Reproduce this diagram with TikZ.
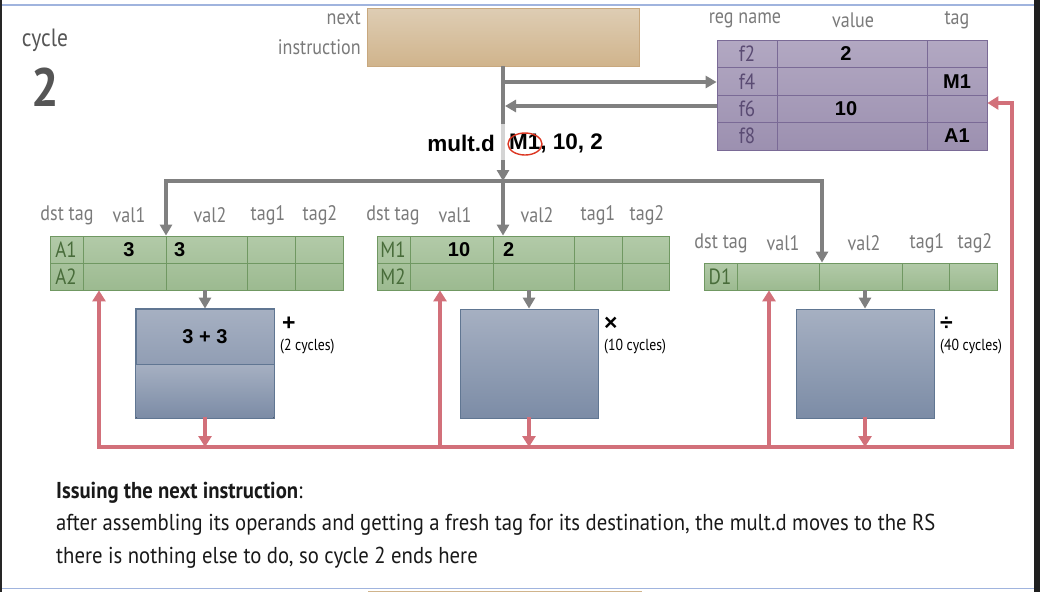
\documentclass[tikz,border=0pt]{standalone}
\usepackage{fontspec}
\setmainfont[FakeStretch=0.9]{PT Sans}
\newfontfamily\narrowfont[FakeStretch=0.86]{PT Sans}
\newfontfamily\arialfont{Liberation Sans}
\usetikzlibrary{arrows.meta,positioning,shapes.geometric}

\definecolor{lblgray}{RGB}{122,122,122}
\definecolor{cyclegray}{RGB}{85,85,85}
\definecolor{arrgray}{RGB}{128,128,128}
\definecolor{fadegray}{RGB}{212,212,212}
\definecolor{redline}{RGB}{210,112,122}
\definecolor{circred}{RGB}{220,55,35}
\definecolor{slideblue}{RGB}{160,180,222}
\definecolor{rstop}{RGB}{178,202,168}
\definecolor{rsbot}{RGB}{156,186,144}
\definecolor{rsline}{RGB}{112,152,98}
\definecolor{rstext}{RGB}{72,108,58}
\definecolor{futop}{RGB}{166,176,194}
\definecolor{fubot}{RGB}{124,140,166}
\definecolor{fuline}{RGB}{96,118,146}
\definecolor{regtop}{RGB}{178,168,194}
\definecolor{regbot}{RGB}{156,144,176}
\definecolor{regline}{RGB}{122,106,150}
\definecolor{regtext}{RGB}{90,75,115}
\definecolor{tantop}{RGB}{222,205,180}
\definecolor{tanbot}{RGB}{208,180,140}
\definecolor{tanline}{RGB}{200,168,126}

\newcommand\pxsize[1]{\fontsize{#1}{#1}\selectfont}

\tikzset{
  lbl/.style={text=lblgray, font=\narrowfont\pxsize{21}, inner sep=0pt},
  val/.style={font=\arialfont\bfseries\pxsize{20}, inner sep=0pt},
  rsname/.style={text=rstext, font=\narrowfont\pxsize{22}, inner sep=0pt},
  regname/.style={text=regtext, font=\narrowfont\pxsize{22}, inner sep=0pt},
  oplbl/.style={font=\arialfont\bfseries\pxsize{23}, inner sep=0pt, anchor=west},
  latlbl/.style={font=\narrowfont\pxsize{16}, inner sep=0pt, anchor=west},
  rsbox/.style={draw=rsline, top color=rstop, bottom color=rsbot, line width=0.8pt, inner sep=0pt},
  fubox/.style={draw=fuline, top color=futop, bottom color=fubot, line width=0.8pt, inner sep=0pt,
    minimum width=138pt, minimum height=109pt},
  regbox/.style={draw=regline, top color=regtop, bottom color=regbot, line width=0.8pt, inner sep=0pt},
  nextbox/.style={draw=tanline, top color=tantop, bottom color=tanbot, line width=0.6pt, inner sep=0pt},
  garrow/.style={draw=arrgray, line width=3.5pt, -{Triangle[length=11pt,width=12pt]}},
  rarrow/.style={draw=redline, line width=3.5pt, line cap=rect, -{Triangle[length=11pt,width=13pt]}},
  txt/.style={font=\pxsize{23}, inner sep=0pt, anchor=west, text=black!90}
}

\begin{document}
\begin{tikzpicture}[x=1pt,y=-1pt]
  % slide frame
  \useasboundingbox (0,0) rectangle (1040,592);
  \fill[white] (0,0) rectangle (1040,592);
  \fill[black!85] (0,0) rectangle (2,592);
  \fill[black!88] (1034,0) rectangle (1040,592);
  \draw[slideblue, line width=1.2pt] (2,5) -- (1034,5);
  \draw[slideblue, line width=1.2pt] (2,588.5) -- (1034,588.5);
  \fill[tanbot] (368,590.6) rectangle (642,592);

  % cycle number
  \node[lbl, text=cyclegray, font=\narrowfont\pxsize{25}] (cycle) at (45,40) {cycle};
  \node[text=cyclegray, font=\bfseries\pxsize{54}, inner sep=0pt] (cyclenum) at (45,87) {2};

  % next instruction
  \node[nextbox, minimum width=272pt, minimum height=58pt] (next) at (503,37) {};
  \node[lbl, anchor=east] (nextlbl) at (361,18) {next};
  \node[lbl, anchor=east] (instrlbl) at (361,47) {instruction};

  % register file
  \node[lbl] (hreg) at (745,20) {reg name};
  \node[lbl] (hval) at (853,20) {value};
  \node[lbl] (htag) at (957,20) {tag};
  \node[regbox, minimum width=270pt, minimum height=110pt] (regf) at (852,95) {};
  \foreach \y in {67.5,95,122.5} \draw[regline, line width=0.8pt] (717,\y) -- (987,\y);
  \foreach \x in {777,927} \draw[regline, line width=0.8pt] (\x,40) -- (\x,150);
  \foreach \n/\y in {f2/54,f4/81.5,f6/109,f8/136}
    \node[regname] (reg\n) at (747,\y) {\n};
  \node[val] (vf2) at (846,54) {2};
  \node[val] (vf6) at (846,109) {10};
  \node[val] (tf4) at (957,81.5) {M1};
  \node[val] (tf8) at (957,136) {A1};

  % instruction being issued
  \coordinate (tapA) at (503,82);
  \coordinate (tapB) at (505,106);
  \coordinate (busM) at (503,181);
  \coordinate (busA) at (166,181);
  \coordinate (busD) at (822,181);
  \draw[garrow] (next.south) -- (busM);
  \draw[fadegray, line width=3.5pt] (503,124) -- (503,160);
  \draw[garrow] (tapA) -- (tapA -| regf.west);
  \draw[garrow] (tapB -| regf.west) -- (tapB);
  \node[font=\arialfont\bfseries\pxsize{22.5}, inner sep=0pt, anchor=east] (opname) at (495,143) {mult.d};
  \node[font=\arialfont\bfseries\pxsize{22.5}, inner sep=0pt, anchor=west] (opargs) at (509,143) {M1, 10, 2};
  \node[draw=circred, ellipse, line width=1.4pt, minimum width=34pt, minimum height=22pt, inner sep=0pt] (ring) at (525,144) {};

  % reservation stations
  \node[rsbox, minimum width=293pt, minimum height=54pt] (rsA) at (196.5,263) {};
  \node[rsbox, minimum width=292pt, minimum height=54pt] (rsM) at (523,263) {};
  \node[rsbox, minimum width=293pt, minimum height=27pt] (rsD) at (850.5,276.5) {};
  \draw[rsline, line width=0.8pt] (50,263) -- (343,263) (377,263) -- (669,263);
  \foreach \x in {83,166,247,295} \draw[rsline, line width=0.8pt] (\x,236) -- (\x,290);
  \foreach \x in {410,493,574,622} \draw[rsline, line width=0.8pt] (\x,236) -- (\x,290);
  \foreach \x in {737,819,902,949} \draw[rsline, line width=0.8pt] (\x,263) -- (\x,290);
  \foreach \t/\x in {dst tag/67,val1/129,val2/210,tag1/268,tag2/320} \node[lbl] at (\x,215) {\t};
  \foreach \t/\x in {dst tag/393,val1/455,val2/537,tag1/598,tag2/647} \node[lbl] at (\x,215) {\t};
  \foreach \t/\x in {dst tag/721,val1/783,val2/864,tag1/927,tag2/975} \node[lbl] at (\x,243) {\t};
  \node[rsname] (a1) at (66,249.5) {A1};
  \node[rsname] (a2) at (66,276.5) {A2};
  \node[rsname] (m1) at (393,249.5) {M1};
  \node[rsname] (m2) at (393,276.5) {M2};
  \node[rsname] (d1) at (720,276.5) {D1};
  \node[val] (a1v1) at (129,249.5) {3};
  \node[val, anchor=west] (a1v2) at (174,249.5) {3};
  \node[val] (m1v1) at (459,249.5) {10};
  \node[val, anchor=west] (m1v2) at (503,249.5) {2};

  \draw[garrow] (busM) -- (busA) -- (busA |- rsA.north);
  \draw[garrow] (busM) -- (busD) -- (busD |- rsD.north);
  \draw[garrow] (busM) -- (busM |- rsM.north);

  % functional units
  \node[fubox] (fuA) at (205,363.5) {};
  \fill[top color=futop, bottom color=fubot] (136.4,364) rectangle (273.6,417.6);
  \draw[fuline, line width=0.8pt] (136,364) -- (274,364) (fuA.south west) rectangle (fuA.north east);
  \node[fubox] (fuM) at (529,363.5) {};
  \node[fubox] (fuD) at (865,363.5) {};
  \node[font=\arialfont\bfseries\pxsize{20}, inner sep=0pt] (sumA) at (205,337) {3 + 3};
  \node[oplbl] (opA) at (282,324) {+};
  \node[oplbl] (opM) at (604,324) {×};
  \node[oplbl] (opD) at (940,324) {÷};
  \node[latlbl] (latA) at (280,347) {(2 cycles)};
  \node[latlbl] (latM) at (604,347) {(10 cycles)};
  \node[latlbl] (latD) at (940,347) {(40 cycles)};
  \draw[garrow] (fuA.north |- rsA.south) -- (fuA.north);
  \draw[garrow] (fuM.north |- rsM.south) -- (fuM.north);
  \draw[garrow] (fuD.north |- rsD.south) -- (fuD.north);

  % result bus
  \coordinate (rbA) at (99,447);
  \coordinate (rbM) at (440,447);
  \coordinate (rbD) at (769,447);
  \coordinate (rbR) at (1012,447);
  \coordinate (rtap) at (1012,103);
  \draw[rarrow] (rbA) -- (rbR) -- (rtap) -- (rtap -| regf.east);
  \draw[rarrow] (rbA) -- (rbA |- rsA.south);
  \draw[rarrow] (rbM) -- (rbM |- rsM.south);
  \draw[rarrow] (rbD) -- (rbD |- rsD.south);
  \draw[rarrow] (fuA.south) -- (fuA.south |- rbA);
  \draw[rarrow] (fuM.south) -- (fuM.south |- rbA);
  \draw[rarrow] (fuD.south) -- (fuD.south |- rbA);

  % explanation
  \node[txt] (title) at (56,493) {\textbf{Issuing the next instruction}:};
  \node[txt] (line1) at (56,525) {after assembling its operands and getting a fresh tag for its destination, the mult.d moves to the RS};
  \node[txt] (line2) at (56,558) {there is nothing else to do, so cycle 2 ends here};
\end{tikzpicture}
\end{document}
